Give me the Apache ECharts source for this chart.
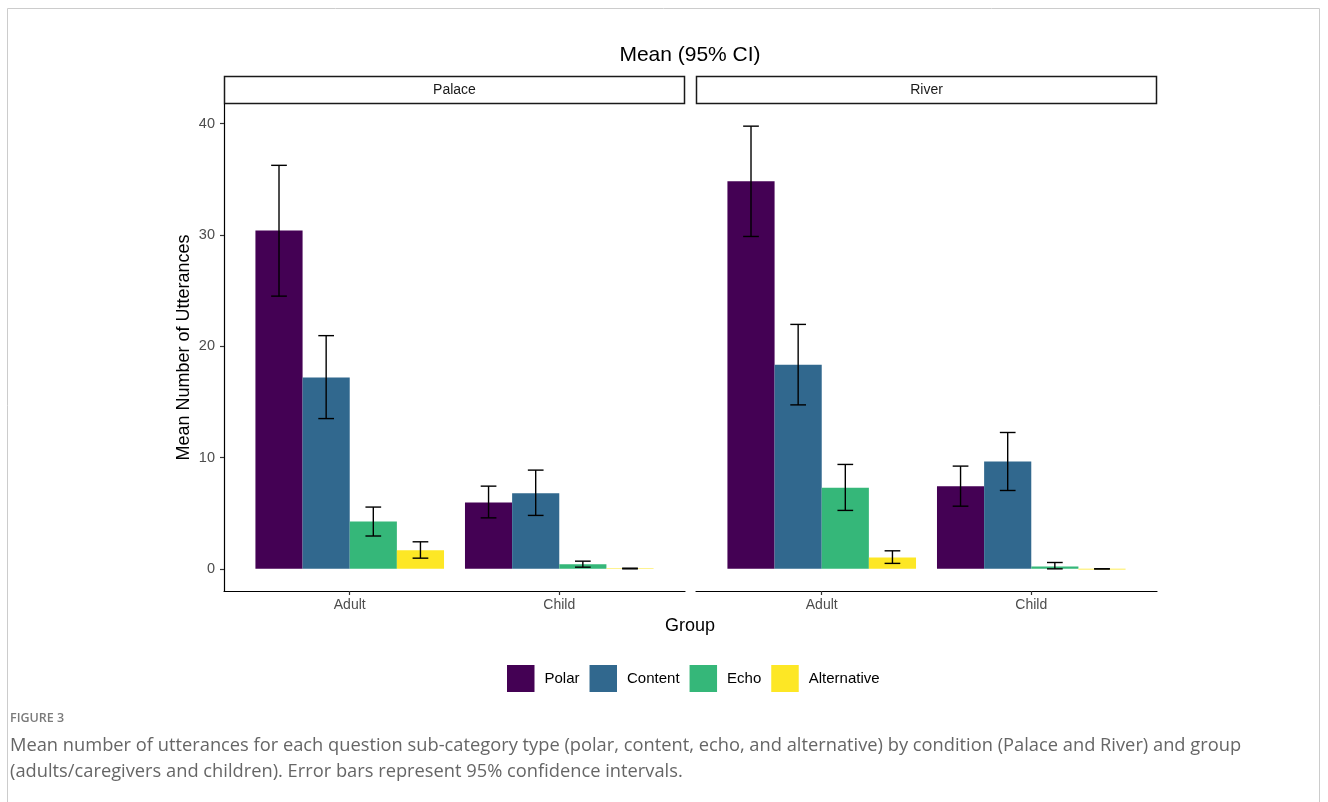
<!DOCTYPE html>
<html>
<head>
<meta charset="utf-8">
<title>Mean number of utterances by question sub-category</title>
<script src="https://cdn.jsdelivr.net/npm/echarts@6/dist/echarts.min.js"></script>
<style>
  html, body { margin: 0; padding: 0; background: #ffffff; }
  #chart { width: 1328px; height: 802px; }
</style>
</head>
<body>
<div id="chart"></div>
<script>
// Categories
const conditions = ['Palace', 'River'];
const groups = ['Adult', 'Child'];
const subcategories = ['Polar', 'Content', 'Echo', 'Alternative'];
const subColors = ['#440154', '#31688E', '#35B779', '#FDE725'];
const yTicks = [0, 10, 20, 30, 40];

// Means and 95% CI bounds; rows = group (Adult, Child), columns = sub-category
const palaceMeans = [[30.4, 17.2, 4.25, 1.68], [5.97, 6.8, 0.42, 0.03]];
const palaceLower = [[24.5, 13.5, 2.95, 0.96], [4.58, 4.8, 0.15, 0.0]];
const palaceUpper = [[36.25, 20.95, 5.55, 2.43], [7.43, 8.87, 0.69, 0.06]];

const riverMeans = [[34.83, 18.33, 7.28, 1.02], [7.43, 9.65, 0.22, 0.0]];
const riverLower = [[29.86, 14.73, 5.25, 0.49], [5.63, 7.04, 0.0, 0.0]];
const riverUpper = [[39.77, 21.96, 9.38, 1.62], [9.23, 12.25, 0.57, 0.0]];

const panelData = [
  { means: palaceMeans, lower: palaceLower, upper: palaceUpper },
  { means: riverMeans, lower: riverLower, upper: riverUpper }
];

const FONT = 'Liberation Sans, Arial, sans-serif';
const CAPTION_FONT = 'Open Sans, sans-serif';
const DODGE = 0.9;                       // total dodged width per group
const BAR_W = DODGE / subcategories.length;
const CAP_HALF = 0.0375;                 // half-width of error-bar caps (x units)

// panel geometry
const panelLeft = [224, 696];
const panelWidth = 461;
const panelTop = 104;
const panelBottom = 591;

const yMin = -1.99, yMax = 41.76;

function makeRenderer(k) {
  return function (params, api) {
    const x = api.value(0), m = api.value(1), lo = api.value(2), hi = api.value(3);
    const left = x - DODGE / 2 + k * BAR_W;
    const right = left + BAR_W;
    const xc = left + BAR_W / 2;
    const p0 = api.coord([left, 0]);
    const p1 = api.coord([right, m]);
    const eTop = api.coord([xc, hi]);
    const eBot = api.coord([xc, lo]);
    const capL = api.coord([xc - CAP_HALF, hi])[0];
    const capR = api.coord([xc + CAP_HALF, hi])[0];
    const errStyle = { stroke: '#000000', lineWidth: 1.4 };
    return {
      type: 'group',
      children: [
        {
          type: 'rect',
          shape: { x: p0[0], y: p1[1], width: p1[0] - p0[0], height: Math.max(p0[1] - p1[1], 0.6) },
          style: { fill: subColors[k] }
        },
        { type: 'line', shape: { x1: eTop[0], y1: eTop[1], x2: eBot[0], y2: eBot[1] }, style: errStyle },
        { type: 'line', shape: { x1: capL, y1: eTop[1], x2: capR, y2: eTop[1] }, style: errStyle },
        { type: 'line', shape: { x1: capL, y1: eBot[1], x2: capR, y2: eBot[1] }, style: errStyle }
      ]
    };
  };
}

const grids = [], xAxes = [], yAxes = [], series = [];
conditions.forEach(function (cond, g) {
  grids.push({
    left: panelLeft[g], width: panelWidth,
    top: panelTop, height: panelBottom - panelTop,
    containLabel: false
  });
  xAxes.push({
    type: 'value', gridIndex: g, min: 0.4, max: 2.6,
    splitLine: { show: false },
    axisLine: { show: true, onZero: false, lineStyle: { color: '#000000', width: 1.2 } },
    axisTick: { show: true, length: 4, customValues: [1, 2], lineStyle: { color: '#333333', width: 1.2 } },
    axisLabel: {
      customValues: [1, 2], margin: 7,
      color: '#4d4d4d', fontSize: 14, fontFamily: FONT,
      formatter: function (v) { return groups[Math.round(v) - 1]; }
    }
  });
  yAxes.push({
    type: 'value', gridIndex: g, min: yMin, max: yMax,
    show: g === 0,
    splitLine: { show: false },
    axisLine: { show: true, onZero: false, lineStyle: { color: '#000000', width: 1.2 } },
    axisTick: { show: true, length: 4, customValues: yTicks, lineStyle: { color: '#333333', width: 1.2 } },
    axisLabel: { customValues: yTicks, margin: 9, color: '#4d4d4d', fontSize: 14.5, fontFamily: FONT }
  });
  const d = panelData[g];
  subcategories.forEach(function (name, k) {
    series.push({
      type: 'custom', name: name,
      xAxisIndex: g, yAxisIndex: g,
      itemStyle: { color: subColors[k] },
      renderItem: makeRenderer(k),
      encode: { x: 0, y: [1, 2, 3] },
      data: groups.map(function (grp, i) {
        return [i + 1, d.means[i][k], d.lower[i][k], d.upper[i][k]];
      }),
      silent: true
    });
  });
});

// facet strips
const strips = conditions.map(function (cond, g) {
  return {
    type: 'group',
    children: [
      {
        type: 'rect',
        shape: { x: panelLeft[g] + 0.5, y: 76.5, width: panelWidth - 1, height: 27 },
        style: { fill: '#ffffff', stroke: '#1a1a1a', lineWidth: 1.5 }
      },
      {
        type: 'text',
        x: panelLeft[g] + panelWidth / 2, y: 90,
        style: { text: cond, fill: '#1a1a1a', font: '14px ' + FONT, align: 'center', verticalAlign: 'middle' }
      }
    ]
  };
});

const option = {
  animation: false,
  backgroundColor: '#ffffff',
  color: subColors,
  grid: grids,
  xAxis: xAxes,
  yAxis: yAxes,
  series: series,
  legend: {
    data: subcategories,
    left: 507, top: 665,
    padding: 0,
    orient: 'horizontal',
    icon: 'rect',
    itemWidth: 27.5, itemHeight: 27,
    itemGap: 10,
    selectedMode: false,
    textStyle: { color: '#000000', fontSize: 15, fontFamily: FONT, padding: [0, 0, 0, 5] }
  },
  graphic: [
    // figure frame
    {
      type: 'rect', silent: true,
      shape: { x: 7.5, y: 8.5, width: 1312, height: 900 },
      style: { fill: 'none', stroke: '#cccccc', lineWidth: 1 }
    },
    {
      type: 'text', x: 690, y: 55,
      style: { text: 'Mean (95% CI)', fill: '#000000', font: '21px ' + FONT, align: 'center', verticalAlign: 'middle' }
    },
    {
      type: 'text', x: 184, y: 347.5, rotation: Math.PI / 2,
      style: { text: 'Mean Number of Utterances', fill: '#000000', font: '18px ' + FONT, align: 'center', verticalAlign: 'middle' }
    },
    {
      type: 'text', x: 690, y: 626,
      style: { text: 'Group', fill: '#000000', font: '18px ' + FONT, align: 'center', verticalAlign: 'middle' }
    },
    {
      type: 'text', x: 10, y: 718,
      style: { text: 'FIGURE 3', fill: '#7a7a7a', font: '600 12.5px ' + CAPTION_FONT, verticalAlign: 'middle' }
    },
    {
      type: 'text', x: 10, y: 746,
      style: {
        text: 'Mean number of utterances for each question sub-category type (polar, content, echo, and alternative) by condition (Palace and River) and group',
        fill: '#666666', font: '18.3px ' + CAPTION_FONT, verticalAlign: 'middle'
      }
    },
    {
      type: 'text', x: 10, y: 772,
      style: {
        text: '(adults/caregivers and children). Error bars represent 95% confidence intervals.',
        fill: '#666666', font: '18.3px ' + CAPTION_FONT, verticalAlign: 'middle'
      }
    }
  ].concat(strips)
};

const chart = echarts.init(document.getElementById('chart'), null, { renderer: 'canvas' });
chart.setOption(option);
</script>
</body>
</html>
